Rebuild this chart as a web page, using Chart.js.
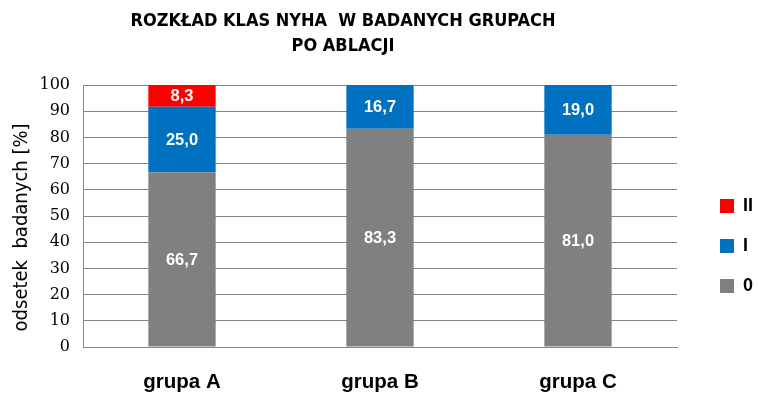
<!DOCTYPE html>
<html>
<head>
<meta charset="utf-8">
<script src="https://cdn.jsdelivr.net/npm/chart.js@4"></script>
<style>
  html, body { margin: 0; padding: 0; background: #ffffff; }
  #wrap { width: 759px; height: 399px; position: relative; }
</style>
</head>
<body>
<div id="wrap"><canvas id="c" width="759" height="399"></canvas></div>
<script>
const categories = ['grupa A', 'grupa B', 'grupa C'];
const class0 = [66.7, 83.3, 81.0];
const classI = [25.0, 16.7, 19.0];
const classII = [8.3, 0, 0];
const seriesNames = ['0', 'I', 'II'];
const titleLines = ['ROZKŁAD KLAS NYHA  W BADANYCH GRUPACH', 'PO ABLACJI'];
const yTitle = 'odsetek  badanych [%]';
const yTicks = [0, 10, 20, 30, 40, 50, 60, 70, 80, 90, 100];

const narrow = "'Liberation Sans Narrow', 'DejaVu Sans Condensed', 'Liberation Sans', sans-serif";
const sans = "'Liberation Sans', 'DejaVu Sans', sans-serif";
const serif = "'DejaVu Serif', 'Liberation Serif', serif";

const labelPlugin = {
  id: 'segLabels',
  afterDatasetsDraw(chart) {
    const ctx = chart.ctx;
    ctx.save();
    ctx.fillStyle = '#ffffff';
    ctx.font = "bold 16.5px " + sans;
    ctx.textAlign = 'center';
    ctx.textBaseline = 'middle';
    chart.data.datasets.forEach((ds, di) => {
      const meta = chart.getDatasetMeta(di);
      meta.data.forEach((bar, i) => {
        const v = ds.data[i];
        if (!v) return;
        const yc = (bar.y + bar.base) / 2;
        ctx.fillText(v.toFixed(1).replace('.', ','), bar.x, yc + 1);
      });
    });
    ctx.restore();
  }
};

const layoutPlugin = {
  id: 'layoutTweak',
  beforeLayout(chart) {
    const lg = chart.legend;
    if (lg && !lg._patched) {
      const orig = lg.fit.bind(lg);
      lg.fit = function () { orig(); this.width = 82; };
      lg._patched = true;
    }
  },
  afterLayout(chart) {
    const lg = chart.legend;
    if (lg) {
      const dx = 698 - lg.left;
      lg.left += dx; lg.right += dx;
      const dy = 175 - lg.top;
      lg.top += dy; lg.bottom += dy;
    }
    const tb = chart.titleBlock;
    if (tb) { tb.left = 0; tb.right = 686; }
  }
};

new Chart(document.getElementById('c'), {
  type: 'bar',
  data: {
    labels: categories,
    datasets: [
      { label: seriesNames[0], data: class0, backgroundColor: '#808080', borderWidth: 0 },
      { label: seriesNames[1], data: classI, backgroundColor: '#0070C0', borderWidth: 0 },
      { label: seriesNames[2], data: classII, backgroundColor: '#FF0000', borderWidth: 0 }
    ]
  },
  options: {
    responsive: false,
    animation: false,
    devicePixelRatio: 1,
    layout: { padding: 0 },
    datasets: { bar: { categoryPercentage: 1, barPercentage: 0.34 } },
    scales: {
      x: {
        stacked: true,
        grid: { display: false, drawTicks: false },
        border: { display: true, color: '#868686', width: 1 },
        ticks: { color: '#000', font: { family: sans, size: 20.5, weight: 'bold' }, padding: 23 },
        afterFit(s) { s.height = 52; }
      },
      y: {
        stacked: true,
        min: 0, max: 100,
        afterBuildTicks(s) { s.ticks = yTicks.map(v => ({ value: v })); },
        grid: { color: '#868686', lineWidth: 1, drawTicks: false },
        border: { display: true, color: '#868686', width: 1 },
        ticks: { color: '#000', font: { family: serif, size: 16 }, padding: 13 },
        title: { display: true, text: yTitle + '    ', color: '#000', font: { family: narrow, size: 20 }, padding: { top: 10, bottom: 0 } },
        afterFit(s) { s.width = 83; }
      }
    },
    plugins: {
      title: {
        display: true,
        text: titleLines,
        color: '#000',
        font: { family: narrow, size: 18, weight: 'bold', lineHeight: 25 / 18 },
        padding: { top: 9, bottom: 26 }
      },
      legend: {
        position: 'right',
        align: 'start',
        reverse: true,
        labels: {
          boxWidth: 14, boxHeight: 14, padding: 22,
          color: '#000',
          font: { family: sans, size: 18, weight: 'bold' }
        }
      },
      tooltip: { enabled: false }
    }
  },
  plugins: [labelPlugin, layoutPlugin]
});
</script>
</body>
</html>
